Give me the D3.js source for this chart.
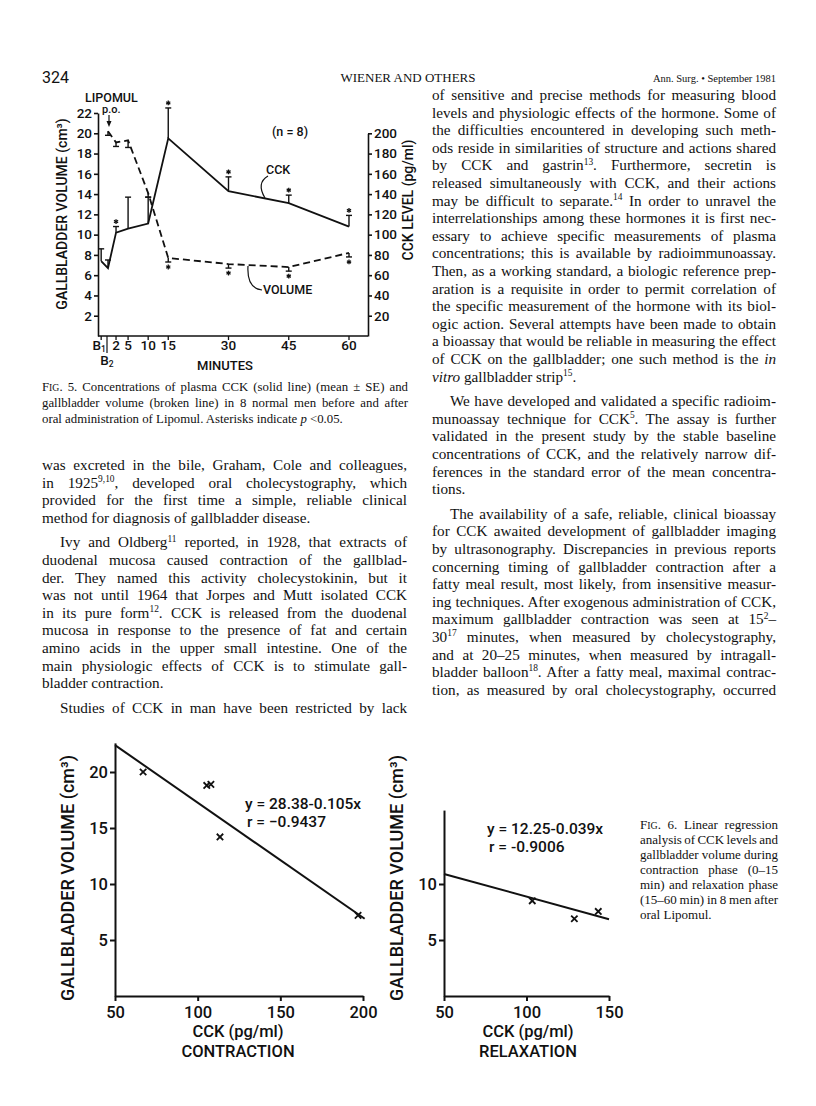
<!DOCTYPE html>
<html><head><meta charset="utf-8">
<script src="https://cdn.jsdelivr.net/npm/d3@7"></script>
<style>
html,body{margin:0;padding:0;background:#fff;}
svg{display:block;}
</style></head><body>
<svg id="page" width="816" height="1106"></svg>
<script>
// ---------------- DATA ----------------
// Fig. 5 – time course
const minuteTickValues = [-1.7, 2, 5, 10, 15, 30, 45, 60];
const minuteTickLabels = ["B1", "2", "5", "10", "15", "30", "45", "60"];
const volumeTicks = [2, 4, 6, 8, 10, 12, 14, 16, 18, 20, 22];
const cckTicks = [20, 40, 60, 80, 100, 120, 140, 160, 180, 200];

const cckTimes = [-1.7, 0, 2, 5, 10, 15, 30, 45, 60];
const cckMean  = [74, 67, 102, 106, 111, 195, 143, 131, 108];
const cckUpper = [86, 75, 108, 137, 137, 225, 157, 139, 119];
const cckSignif = [0, 0, 1, 0, 0, 1, 1, 1, 1];

const volTimes = [0, 2, 5, 10, 15, 30, 45, 60];
const volMean  = [20.2, 19.1, 19.3, 14.1, 7.7, 7.1, 6.8, 8.2];
const volLower = [19.8, 18.7, 18.6, 13.7, 7.3, 6.7, 6.4, 7.8];
const volSignif = [0, 0, 0, 0, 1, 1, 1, 1];

// Fig. 6 – regressions
const contrCCK = [67, 105.5, 108, 113.5, 197];
const contrVol = [20.0, 18.8, 18.9, 14.2, 7.2];
const contrFitX = [50, 201];
const contrFitY = [22.4, 6.9];
const relaxCCK = [103.5, 129, 143.5];
const relaxVol = [8.5, 6.9, 7.55];
const relaxFitX = [50, 150];
const relaxFitY = [10.9, 6.85];
const contrXTicks = [50, 100, 150, 200];
const relaxXTicks = [50, 100, 150];
const contrYTicks = [5, 10, 15, 20];
const relaxYTicks = [5, 10];

// ---------------- TEXT ----------------
const rightColumn = [
 ["of sensitive and precise methods for measuring blood", 0, 1],
 ["levels and physiologic effects of the hormone. Some of", 0, 1],
 ["the difficulties encountered in developing such meth-", 0, 1],
 ["ods reside in similarities of structure and actions shared", 0, 1],
 ["by CCK and gastrin^{13}. Furthermore, secretin is", 0, 1],
 ["released simultaneously with CCK, and their actions", 0, 1],
 ["may be difficult to separate.^{14} In order to unravel the", 0, 1],
 ["interrelationships among these hormones it is first nec-", 0, 1],
 ["essary to achieve specific measurements of plasma", 0, 1],
 ["concentrations; this is available by radioimmunoassay.", 0, 1],
 ["Then, as a working standard, a biologic reference prep-", 0, 1],
 ["aration is a requisite in order to permit correlation of", 0, 1],
 ["the specific measurement of the hormone with its biol-", 0, 1],
 ["ogic action. Several attempts have been made to obtain", 0, 1],
 ["a bioassay that would be reliable in measuring the effect", 0, 1],
 ["of CCK on the gallbladder; one such method is the _{in}", 0, 1],
 ["_{vitro} gallbladder strip^{15}.", 0, 0],
 ["We have developed and validated a specific radioim-", 1, 1],
 ["munoassay technique for CCK^{5}. The assay is further", 0, 1],
 ["validated in the present study by the stable baseline", 0, 1],
 ["concentrations of CCK, and the relatively narrow dif-", 0, 1],
 ["ferences in the standard error of the mean concentra-", 0, 1],
 ["tions.", 0, 0],
 ["The availability of a safe, reliable, clinical bioassay", 1, 1],
 ["for CCK awaited development of gallbladder imaging", 0, 1],
 ["by ultrasonography. Discrepancies in previous reports", 0, 1],
 ["concerning timing of gallbladder contraction after a", 0, 1],
 ["fatty meal result, most likely, from insensitive measur-", 0, 1],
 ["ing techniques. After exogenous administration of CCK,", 0, 1],
 ["maximum gallbladder contraction was seen at 15^{2}\u2013", 0, 1],
 ["30^{17} minutes, when measured by cholecystography,", 0, 1],
 ["and at 20\u201325 minutes, when measured by intragall-", 0, 1],
 ["bladder balloon^{18}. After a fatty meal, maximal contrac-", 0, 1],
 ["tion, as measured by oral cholecystography, occurred", 0, 1]
];
const leftColumn = [
 ["was excreted in the bile, Graham, Cole and colleagues,", 0, 1],
 ["in 1925^{9,10}, developed oral cholecystography, which", 0, 1],
 ["provided for the first time a simple, reliable clinical", 0, 1],
 ["method for diagnosis of gallbladder disease.", 0, 0],
 ["Ivy and Oldberg^{11} reported, in 1928, that extracts of", 1, 1],
 ["duodenal mucosa caused contraction of the gallblad-", 0, 1],
 ["der. They named this activity cholecystokinin, but it", 0, 1],
 ["was not until 1964 that Jorpes and Mutt isolated CCK", 0, 1],
 ["in its pure form^{12}. CCK is released from the duodenal", 0, 1],
 ["mucosa in response to the presence of fat and certain", 0, 1],
 ["amino acids in the upper small intestine. One of the", 0, 1],
 ["main physiologic effects of CCK is to stimulate gall-", 0, 1],
 ["bladder contraction.", 0, 0],
 ["Studies of CCK in man have been restricted by lack", 1, 1]
];
const fig5Caption = [
 ["~{FIG}. 5. Concentrations of plasma CCK (solid line) (mean \u00b1 SE) and", 1],
 ["gallbladder volume (broken line) in 8 normal men before and after", 1],
 ["oral administration of Lipomul. Asterisks indicate _{p} <0.05.", 0]
];
const fig6Caption = [
 ["~{FIG}. 6. Linear regression", 1],
 ["analysis of CCK levels and", 1],
 ["gallbladder volume during", 1],
 ["contraction phase (0\u201315", 1],
 ["min) and relaxation phase", 1],
 ["(15\u201360 min) in 8 men after", 1],
 ["oral Lipomul.", 0]
];

// ---------------- HELPERS ----------------
const svg = d3.select("#page");
const SERIF = "'Liberation Serif','Times New Roman',serif";
const SANS = "Roboto,'Liberation Sans',Arial,sans-serif";

function parseMarkup(s) {
  const re = /(\^\{[^}]*\}|_\{[^}]*\}|~\{[^}]*\})/g;
  const out = []; let last = 0, m;
  while ((m = re.exec(s)) !== null) {
    if (m.index > last) out.push({t: s.slice(last, m.index), k: "n"});
    const k = m[0][0] === "^" ? "sup" : (m[0][0] === "_" ? "it" : "sc");
    out.push({t: m[0].slice(2, -1), k});
    last = m.index + m[0].length;
  }
  if (last < s.length) out.push({t: s.slice(last), k: "n"});
  return out;
}

function textLine(g, x, y, width, markup, justify, size) {
  const t = g.append("text").attr("x", x).attr("y", y)
    .attr("font-family", SERIF).attr("font-size", size).attr("fill", "#111");
  let raised = false;
  parseMarkup(markup).forEach(seg => {
    if (seg.k === "sup") {
      t.append("tspan").attr("font-size", size * 0.62).attr("dy", -size * 0.38).text(seg.t);
      raised = true;
    } else if (seg.k === "sc") {
      seg.t.split("").forEach((ch, i) => {
        t.append("tspan").attr("font-size", i === 0 ? size : size * 0.76).text(ch);
      });
    } else {
      const sp = t.append("tspan").text(seg.t);
      if (seg.k === "it") sp.attr("font-style", "italic");
      if (raised) { sp.attr("dy", size * 0.38); raised = false; }
    }
  });
  if (justify) {
    const nat = t.node().getComputedTextLength();
    const spaces = (markup.replace(/[\^_~]\{|\}/g, "").match(/ /g) || []).length;
    if (spaces > 0) t.attr("word-spacing", (width - nat) / spaces);
    t.attr("textLength", width).attr("lengthAdjust", "spacing");
  }
  return t;
}

function column(lines, x, width, y0, step, gap, size, indent) {
  const g = svg.append("g");
  let y = y0;
  lines.forEach((ln, i) => {
    if (i > 0) { y += step; if (ln[1]) y += gap; }
    const ind = ln[1] ? indent : 0;
    textLine(g, x + ind, y, width - ind, ln[0], ln[2], size);
  });
}

function asterisk(g, cx, cy, r) {
  [90, 30, 150].forEach(a => {
    const rad = a * Math.PI / 180;
    g.append("line")
      .attr("x1", cx - r * Math.cos(rad)).attr("y1", cy - r * Math.sin(rad))
      .attr("x2", cx + r * Math.cos(rad)).attr("y2", cy + r * Math.sin(rad))
      .attr("stroke", "#111").attr("stroke-width", 1.3);
  });
}

// ---------------- HEADER ----------------
svg.append("text").attr("x", 42).attr("y", 83).attr("font-family", SANS)
  .attr("font-size", 16).attr("fill", "#111").text("324");
svg.append("text").attr("x", 408).attr("y", 82).attr("text-anchor", "middle")
  .attr("font-family", SERIF).attr("font-size", 13).attr("fill", "#111")
  .text("WIENER AND OTHERS");
svg.append("text").attr("x", 776).attr("y", 82).attr("text-anchor", "end")
  .attr("font-family", SERIF).attr("font-size", 10.5).attr("fill", "#111")
  .text("Ann. Surg. \u2022 September 1981");

// ---------------- FIG 5 ----------------
const f5 = svg.append("g").attr("font-family", SANS).attr("fill", "#111");
const xT = d3.scaleLinear().domain([0, 60]).range([108, 349]);
const yVol = d3.scaleLinear().domain([0, 22]).range([336, 113]);
const yCck = d3.scaleLinear().domain([0, 200]).range([336, 133.3]);
const plotLeft = 98, plotRight = 368, plotBottom = 336;

const axL = f5.append("g").attr("transform", `translate(${plotLeft},0)`)
  .call(d3.axisLeft(yVol).tickValues(volumeTicks).tickSize(4).tickSizeOuter(0).tickPadding(2));
const axR = f5.append("g").attr("transform", `translate(${plotRight},0)`)
  .call(d3.axisRight(yCck).tickValues(cckTicks).tickSize(4).tickSizeOuter(0).tickPadding(2));
[axL, axR].forEach(a => {
  a.selectAll("path,line").attr("stroke", "#111").attr("stroke-width", 1.6);
  a.selectAll("text").attr("font-family", SANS).attr("font-size", 13.5)
    .attr("font-weight", 500).attr("fill", "#111");
});
f5.append("line").attr("x1", plotLeft).attr("x2", plotRight)
  .attr("y1", plotBottom).attr("y2", plotBottom).attr("stroke", "#111").attr("stroke-width", 1.6);
minuteTickValues.forEach((v, i) => {
  const x = xT(v);
  f5.append("line").attr("x1", x).attr("x2", x).attr("y1", plotBottom).attr("y2", plotBottom + 4)
    .attr("stroke", "#111").attr("stroke-width", 1.3);
  const isB = minuteTickLabels[i] === "B1";
  const t = f5.append("text").attr("x", isB ? x - 2 : x).attr("y", plotBottom + 14).attr("text-anchor", "middle")
    .attr("font-size", 13.5).attr("font-weight", 500);
  if (isB) {
    t.append("tspan").text("B");
    t.append("tspan").attr("font-size", 8.5).attr("dy", 2).text("1");
  } else t.text(minuteTickLabels[i]);
});
f5.append("line").attr("x1", xT(0) - 1).attr("x2", xT(0) - 1).attr("y1", plotBottom).attr("y2", plotBottom + 17)
  .attr("stroke", "#111").attr("stroke-width", 1.2);
const b2 = f5.append("text").attr("x", xT(0) - 1).attr("y", plotBottom + 29).attr("text-anchor", "middle")
  .attr("font-size", 13.5).attr("font-weight", 500);
b2.append("tspan").text("B");
b2.append("tspan").attr("font-size", 8.5).attr("dy", 2).text("2");
f5.append("text").attr("x", 225).attr("y", 370).attr("text-anchor", "middle")
  .attr("font-size", 13).attr("font-weight", 500).text("MINUTES");

f5.append("text").attr("transform", "translate(67,214) rotate(-90)").attr("text-anchor", "middle")
  .attr("font-size", 14).attr("font-weight", 500).text("GALLBLADDER VOLUME (cm\u00b3)");
f5.append("text").attr("transform", "translate(413,200) rotate(-90)").attr("text-anchor", "middle")
  .attr("font-size", 14).attr("font-weight", 500).text("CCK LEVEL (pg/ml)");

// volume (broken line)
const volPts = volTimes.map((t, i) => [xT(t), yVol(volMean[i])]);
f5.append("path").attr("d", d3.line()(volPts)).attr("fill", "none")
  .attr("stroke", "#111").attr("stroke-width", 1.8).attr("stroke-dasharray", "7,4");
volTimes.forEach((t, i) => {
  const x = xT(t), y1 = yVol(volMean[i]), y2 = yVol(volLower[i]);
  f5.append("line").attr("x1", x).attr("x2", x).attr("y1", y1).attr("y2", y2).attr("stroke", "#111").attr("stroke-width", 1.4);
  f5.append("line").attr("x1", x - 3).attr("x2", x + 3).attr("y1", y2).attr("y2", y2).attr("stroke", "#111").attr("stroke-width", 1.4);
  if (volSignif[i]) asterisk(f5, x, y2 + 5, 2.4);
});

// CCK (solid line)
const cckPts = cckTimes.map((t, i) => [xT(t), yCck(cckMean[i])]);
f5.append("path").attr("d", d3.line()(cckPts)).attr("fill", "none")
  .attr("stroke", "#111").attr("stroke-width", 1.8);
cckTimes.forEach((t, i) => {
  const x = xT(t), y1 = yCck(cckMean[i]), y2 = yCck(cckUpper[i]);
  f5.append("line").attr("x1", x).attr("x2", x).attr("y1", y1).attr("y2", y2).attr("stroke", "#111").attr("stroke-width", 1.4);
  f5.append("line").attr("x1", x - 3).attr("x2", x + 3).attr("y1", y2).attr("y2", y2).attr("stroke", "#111").attr("stroke-width", 1.4);
  if (cckSignif[i]) asterisk(f5, x, y2 - 5, 2.4);
});

// annotations
f5.append("text").attr("x", 85).attr("y", 102).attr("font-size", 12.5).attr("font-weight", 500).text("LIPOMUL");
f5.append("text").attr("x", 102).attr("y", 113).attr("font-size", 11).attr("font-weight", 500).text("p.o.");
f5.append("line").attr("x1", xT(0) + 1).attr("x2", xT(0) + 1).attr("y1", 115).attr("y2", 123)
  .attr("stroke", "#111").attr("stroke-width", 1.2);
f5.append("path").attr("d", `M${xT(0) - 1.5},121 L${xT(0) + 3.5},121 L${xT(0) + 1},127 Z`).attr("fill", "#111");
f5.append("text").attr("x", 272).attr("y", 136).attr("font-size", 12.5).attr("font-weight", 500).text("(n = 8)");
f5.append("text").attr("x", 266).attr("y", 174).attr("font-size", 12.5).attr("font-weight", 500).text("CCK");
f5.append("path").attr("d", "M265,198 Q256,183 268,176").attr("fill", "none").attr("stroke", "#111").attr("stroke-width", 1.2);
f5.append("text").attr("x", 263).attr("y", 294).attr("font-size", 12.5).attr("font-weight", 500).text("VOLUME");
f5.append("path").attr("d", "M248,266 C247,282 252,289 262,290").attr("fill", "none").attr("stroke", "#111").attr("stroke-width", 1.2);

// caption fig 5
fig5Caption.forEach((c, i) => textLine(svg, 42, 391 + i * 16, 366, c[0], c[1], 12.8));

// body text
column(leftColumn, 42, 365, 470, 17.6, 7, 15.2, 18);
column(rightColumn, 432, 344, 100, 17.6, 7, 15.2, 18);

// ---------------- FIG 6 ----------------
const zeroY = 996, pxPerUnit = 11.2;
function regressionPanel(opts) {
  const g = svg.append("g").attr("font-family", SANS).attr("fill", "#111");
  const x = d3.scaleLinear().domain(opts.xDomain).range(opts.xRange);
  const y = d3.scaleLinear().domain([0, opts.yTop]).range([zeroY, zeroY - opts.yTop * pxPerUnit]);
  const ax = g.append("g").attr("transform", `translate(${opts.xRange[0]},0)`)
    .call(d3.axisLeft(y).tickValues(opts.yTicks).tickSize(5).tickSizeOuter(0).tickPadding(2));
  const bx = g.append("g").attr("transform", `translate(0,${zeroY})`)
    .call(d3.axisBottom(x).tickValues(opts.xTicks).tickSize(5).tickSizeOuter(0).tickPadding(5));
  [ax, bx].forEach(a => {
    a.selectAll("path,line").attr("stroke", "#111").attr("stroke-width", 2);
    a.selectAll("text").attr("font-family", SANS).attr("font-size", 16.5).attr("font-weight", 500).attr("fill", "#111");
  });
  g.append("line").attr("x1", x(opts.fitX[0])).attr("y1", y(opts.fitY[0]))
    .attr("x2", x(opts.fitX[1])).attr("y2", y(opts.fitY[1])).attr("stroke", "#111").attr("stroke-width", 2);
  opts.px.forEach((v, i) => {
    const cx = x(v), cy = y(opts.py[i]), r = 3.2;
    g.append("path").attr("d", `M${cx - r},${cy - r}L${cx + r},${cy + r}M${cx - r},${cy + r}L${cx + r},${cy - r}`)
      .attr("stroke", "#111").attr("stroke-width", 1.8);
  });
  g.append("text").attr("transform", `translate(${opts.labelX},878) rotate(-90)`).attr("text-anchor", "middle")
    .attr("font-size", 18).attr("font-weight", 500).text("GALLBLADDER VOLUME (cm\u00b3)");
  g.append("text").attr("x", opts.titleX).attr("y", 1037).attr("text-anchor", "middle")
    .attr("font-size", 16.5).attr("font-weight", 500).text("CCK (pg/ml)");
  g.append("text").attr("x", opts.titleX).attr("y", 1057).attr("text-anchor", "middle")
    .attr("font-size", 16.5).attr("font-weight", 500).text(opts.phase);
  g.append("text").attr("x", opts.eqX).attr("y", opts.eqY).attr("font-size", 15.5).attr("font-weight", 500).text(opts.eq);
  g.append("text").attr("x", opts.eqX + 2).attr("y", opts.eqY + 18).attr("font-size", 15.5).attr("font-weight", 500).text(opts.r);
}
regressionPanel({xDomain: [50, 200], xRange: [115, 363], yTop: 22.6, yTicks: contrYTicks, xTicks: contrXTicks,
  fitX: contrFitX, fitY: contrFitY, px: contrCCK, py: contrVol, labelX: 74, titleX: 238, phase: "CONTRACTION",
  eq: "y = 28.38-0.105x", r: "r = \u22120.9437", eqX: 245, eqY: 809});
regressionPanel({xDomain: [50, 150], xRange: [444, 609], yTop: 16.6, yTicks: relaxYTicks, xTicks: relaxXTicks,
  fitX: relaxFitX, fitY: relaxFitY, px: relaxCCK, py: relaxVol, labelX: 403, titleX: 528, phase: "RELAXATION",
  eq: "y = 12.25-0.039x", r: "r = -0.9006", eqX: 487, eqY: 834});

// caption fig 6
fig6Caption.forEach((c, i) => textLine(svg, 640, 829 + i * 15, 138, c[0], c[1], 13));
</script>
</body></html>
